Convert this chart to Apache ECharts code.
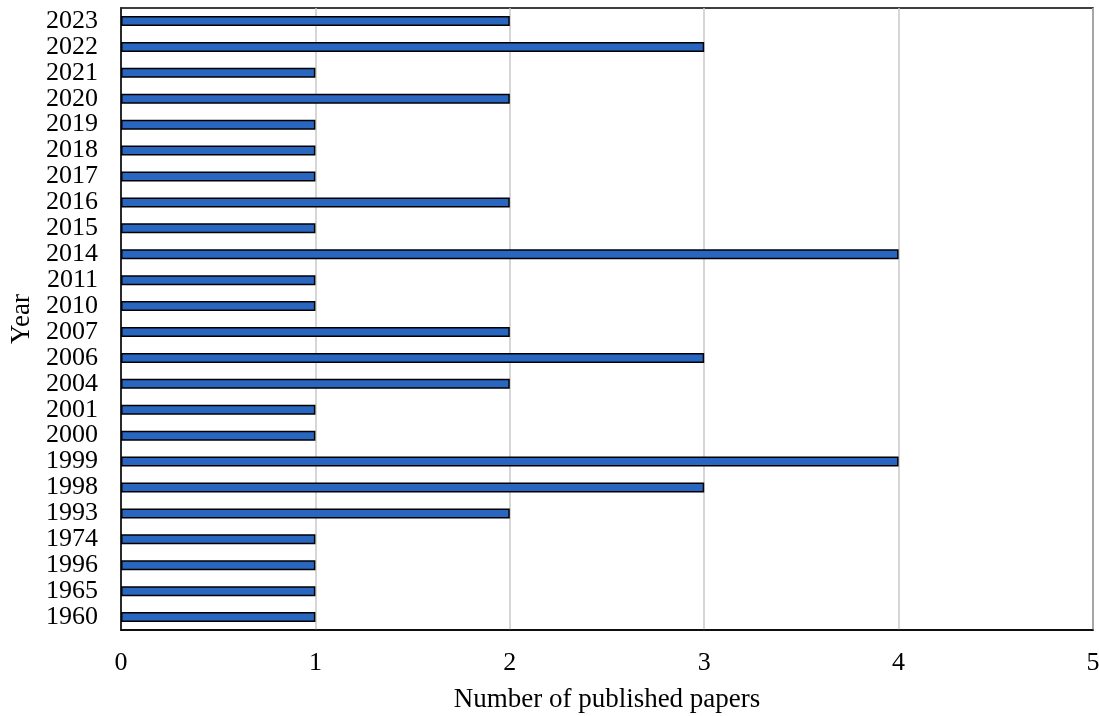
<!DOCTYPE html>
<html>
<head>
<meta charset="utf-8">
<script src="https://cdn.jsdelivr.net/npm/echarts@6/dist/echarts.min.js"></script>
<style>
  html, body { margin: 0; padding: 0; background: #fff; }
  #chart { width: 1099px; height: 716px; }
</style>
</head>
<body>
<div id="chart"></div>
<script>
// Publication years, listed bottom to top as drawn on the category axis
const years = ['1960', '1965', '1996', '1974', '1993', '1998', '1999', '2000', '2001', '2004',
  '2006', '2007', '2010', '2011', '2014', '2015', '2016', '2017', '2018', '2019',
  '2020', '2021', '2022', '2023'];
// Number of papers published in each year
const paperCounts = [1, 1, 1, 1, 2, 3, 4, 1, 1, 2,
  3, 2, 1, 1, 4, 1, 2, 1, 1, 1,
  2, 1, 3, 2];
const xTicks = [0, 1, 2, 3, 4, 5];

const font = '"Liberation Serif", "Times New Roman", serif';
const chart = echarts.init(document.getElementById('chart'));
chart.setOption({
  animation: false,
  backgroundColor: '#ffffff',
  grid: {
    left: 121, right: 6, top: 8, bottom: 86,
    outerBoundsMode: 'none',
    containLabel: false,
    show: true, borderColor: '#000', borderWidth: 1.5, backgroundColor: 'transparent'
  },
  xAxis: {
    type: 'value',
    min: xTicks[0], max: xTicks[xTicks.length - 1], interval: 1,
    name: 'Number of published papers',
    nameLocation: 'middle', nameGap: 56,
    nameTextStyle: { fontFamily: font, fontSize: 27, color: '#000' },
    axisLine: { show: true, lineStyle: { color: '#000', width: 1.5 } },
    axisTick: { show: false },
    axisLabel: { fontFamily: font, fontSize: 26, color: '#000', margin: 20 },
    splitLine: { show: true, lineStyle: { color: '#c8c8c8', width: 1.5 } }
  },
  yAxis: {
    type: 'category',
    data: years,
    name: 'Year',
    nameLocation: 'middle', nameGap: 86, nameRotate: 90,
    nameTextStyle: { fontFamily: font, fontSize: 27, color: '#000' },
    axisLine: { show: true, lineStyle: { color: '#000', width: 1.5 } },
    axisTick: { show: false },
    axisLabel: { fontFamily: font, fontSize: 26, color: '#000', margin: 23, interval: 0 },
    splitLine: { show: false }
  },
  series: [{
    type: 'bar',
    data: paperCounts,
    barWidth: 10,
    itemStyle: { color: '#2866c0', borderColor: '#000', borderWidth: 1.5 }
  }]
});
</script>
</body>
</html>
